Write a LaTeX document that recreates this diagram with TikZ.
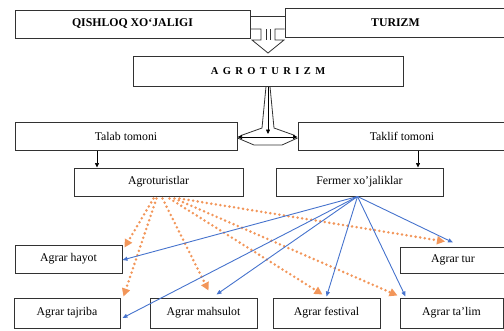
\documentclass[tikz,border=0pt]{standalone}
\usepackage{fontspec}
\setmainfont{Liberation Serif}
\usetikzlibrary{arrows.meta,calc}
\definecolor{orng}{RGB}{242,150,90}
\definecolor{blu}{RGB}{70,115,205}
\definecolor{edge}{RGB}{50,50,50}
\begin{document}
\begin{tikzpicture}[x=1pt,y=-1pt,
  box/.style={draw=edge,line width=1pt,fill=white,inner sep=0pt,font=\fontsize{11.8}{13}\selectfont},
  arr/.style={-{Triangle[length=4.5pt,width=4pt]},line width=0.7pt,black},
  orarr/.style={orng,line width=2.8pt,line cap=round,dash pattern=on 0pt off 4.6pt,-{Triangle[length=8pt,width=8pt,fill=orng]}},
  blarr/.style={blu,line width=0.9pt,-{Triangle[length=5pt,width=4pt]}}]
\useasboundingbox (0,0) rectangle (504,330);
% top
\node[box,minimum width=235pt,minimum height=28pt] (q) at (132.5,24) {\bfseries QISHLOQ XO‘JALIGI};
\node[box,minimum width=221pt,minimum height=29pt] (t) at (395.5,22.5) {\bfseries TURIZM};
\node[box,minimum width=270pt,minimum height=30pt] (a) at (268,71) {\fontsize{10.5}{12}\selectfont\bfseries\addfontfeatures{LetterSpace=42}AGROTURIZM};
% merging block arrow
\draw[edge,line width=0.8pt] (q.east |- 0,16) -- (t.west |- 0,16);
\draw[edge,line width=0.8pt,fill=white] (q.east |- 0,29) -- (261,29) -- (261,40) -- (252,40) -- (268,53) -- (284,40) -- (275,40) -- (275,29) -- (t.west |- 0,29);
\draw[edge,line width=0.8pt] (266,29) -- (266,40) (270,29) -- (270,40);
% second level
\node[box,minimum width=222pt,minimum height=28pt] (talab) at (126,136) {Talab tomoni};
\node[box,minimum width=208pt,minimum height=28pt] (taklif) at (402,136) {Taklif tomoni};
% splitter
\coordinate (sp) at (268,137);
\draw[edge,line width=0.8pt] (266,0 |- a.south) -- (262,128) -- (241,135.5);
\draw[edge,line width=0.8pt] (270,0 |- a.south) -- (274,128) -- (295,135.5);
\draw[edge,line width=0.8pt] (talab.east |- 0,138) -- (254,145) -- (282,145) -- (taklif.west |- 0,138);
\draw[arr] (268,0 |- a.south) -- (268,134);
\draw[arr] (sp) -- (sp -| talab.east);
\draw[arr] (sp) -- (sp -| taklif.west);
% third level
\node[box,minimum width=169pt,minimum height=28pt] (agt) at (158.5,182) {Agroturistlar};
\node[box,minimum width=167pt,minimum height=28pt] (fer) at (359.5,182) {Fermer xo’jaliklar};
\draw[arr] (97,0 |- talab.south) -- (97,0 |- agt.north);
\draw[arr] (418,0 |- taklif.south) -- (418,0 |- fer.north);
% bottom boxes
\node[box,minimum width=107pt,minimum height=28pt] (hayot) at (68.5,259) {Agrar hayot};
\node[box,minimum width=106pt,minimum height=26pt] (tur) at (453,260) {Agrar tur};
\node[box,minimum width=106pt,minimum height=30pt] (tajriba) at (67,313) {Agrar tajriba};
\node[box,minimum width=107pt,minimum height=30pt] (mahsulot) at (203.5,313) {Agrar mahsulot};
\node[box,minimum width=107pt,minimum height=30pt] (festival) at (326.5,313) {Agrar festival};
\node[box,minimum width=103pt,minimum height=30pt] (talim) at (451.5,313) {Agrar ta’lim};
% orange dotted
\draw[orarr] ([xshift=-5pt,yshift=-2pt]agt.south) -- ([xshift=2pt,yshift=-3pt]hayot.north east);
\draw[orarr] ([xshift=-2pt,yshift=-2pt]agt.south) -- ([xshift=3pt,yshift=1pt]tajriba.north east);
\draw[orarr] ([xshift=4pt,yshift=-2pt]agt.south) -- ([xshift=5pt,yshift=7pt]mahsulot.north);
\draw[orarr] ([xshift=11pt,yshift=-2pt]agt.south) -- ([xshift=-4pt,yshift=3pt]festival.north);
\draw[orarr] ([xshift=16pt,yshift=-2pt]agt.south) -- ([xshift=-2pt,yshift=2pt]talim.north west);
\draw[orarr] ([xshift=21pt,yshift=-2pt]agt.south) -- ([xshift=-8pt,yshift=5pt]tur.north);
% blue
\coordinate (fs) at ([xshift=-2pt]fer.south);
\draw[blarr] (fs) -- ([yshift=-1pt]hayot.east);
\draw[blarr] (fs) -- ([xshift=2pt,yshift=-5pt]tajriba.east);
\draw[blarr] (fs) -- ([xshift=13pt,yshift=3pt]mahsulot.north);
\draw[blarr] (fs) -- ([yshift=1pt]festival.north);
\draw[blarr] (fs) -- ([xshift=6pt,yshift=1pt]talim.north west);
\draw[blarr] (fs) -- ([yshift=4pt]tur.north);
\end{tikzpicture}
\end{document}
